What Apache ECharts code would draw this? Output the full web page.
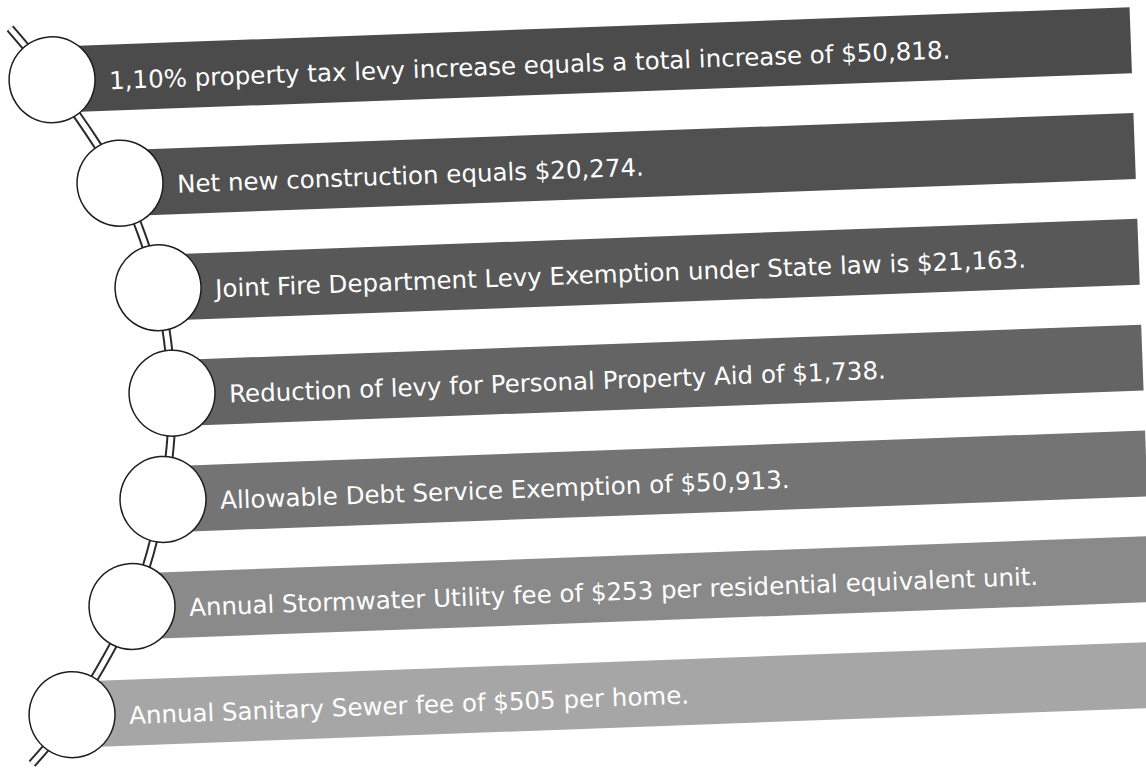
<!DOCTYPE html>
<html>
<head>
<meta charset="utf-8">
<script src="https://cdn.jsdelivr.net/npm/echarts@6.0.0/dist/echarts.min.js"></script>
<style>
html, body { margin: 0; padding: 0; background: #fff; overflow: hidden; }
/* the scan is slightly tilted, so the whole chart is turned a bit */
#levy_steps { width: 1146px; height: 770px; transform: rotate(-2.1deg); transform-origin: 573px 385px; }
</style>
</head>
<body>
<div id="levy_steps"></div>
<script>
const steps = [
    '1,10% property tax levy increase equals a total increase of $50,818.',
    'Net new construction equals $20,274.',
    'Joint Fire Department Levy Exemption under State law is $21,163.',
    'Reduction of levy for Personal Property Aid of $1,738.',
    'Allowable Debt Service Exemption of $50,913.',
    'Annual Stormwater Utility fee of $253 per residential equivalent unit.',
    'Annual Sanitary Sewer fee of $505 per home.'
];
// where each circle sits along the x axis
const nodeX = [63.6, 127.7, 161.9, 172, 159.1, 124.2, 60.3];
const barEnd = 1143;
const barColors = ['#4b4b4b', '#515151', '#585858', '#646464', '#747474', '#8a8a8a', '#a6a6a6'];
// the ends of the connecting track, past the first and last circle
const trackStart = [23.5, -0.5];
const trackEnd = [18.5, 6.45];

let chartDom = document.getElementById('levy_steps');
let myChart = echarts.init(chartDom, null, { renderer: 'svg' });

let track = [trackStart].concat(nodeX.map((x, i) => [x, i]), [trackEnd]);

let option = {
    animation: false,
    grid: {
        left: 0,
        right: 0,
        top: 8,
        bottom: 21
    },
    xAxis: {
        type: 'value',
        min: 0,
        max: 1146,
        show: false
    },
    yAxis: [
        {
            type: 'category',
            data: steps,
            inverse: true,
            show: false
        },
        {
            type: 'value',
            min: -0.5,
            max: 6.5,
            inverse: true,
            show: false
        }
    ],
    series: [
        // 打底, invisible part under the circle
        {
            type: 'bar',
            stack: 'row',
            barWidth: 66,
            silent: true,
            itemStyle: { color: 'transparent' },
            data: nodeX
        },
        {
            type: 'bar',
            stack: 'row',
            barWidth: 66,
            data: nodeX.map((x, i) => ({
                value: barEnd - x,
                itemStyle: { color: barColors[i] }
            })),
            label: {
                show: true,
                position: 'insideLeft',
                distance: 57,
                offset: [0, 3],
                formatter: '{b}',
                color: '#ffffff',
                fontSize: 24.5,
                fontFamily: 'DejaVu Sans'
            }
        },
        // double line track: dark stroke then white core
        {
            type: 'line',
            yAxisIndex: 1,
            smooth: 0.3,
            symbol: 'none',
            z: 3,
            lineStyle: { width: 9, color: '#2b2b2b' },
            data: track
        },
        {
            type: 'line',
            yAxisIndex: 1,
            smooth: 0.3,
            symbol: 'none',
            z: 4,
            lineStyle: { width: 5, color: '#ffffff' },
            data: track
        },
        {
            type: 'scatter',
            yAxisIndex: 1,
            symbolSize: 86,
            z: 5,
            itemStyle: {
                color: '#ffffff',
                borderColor: '#1e1e1e',
                borderWidth: 1.5,
                opacity: 1
            },
            data: nodeX.map((x, i) => [x, i])
        }
    ]
};

option && myChart.setOption(option);
</script>
</body>
</html>
